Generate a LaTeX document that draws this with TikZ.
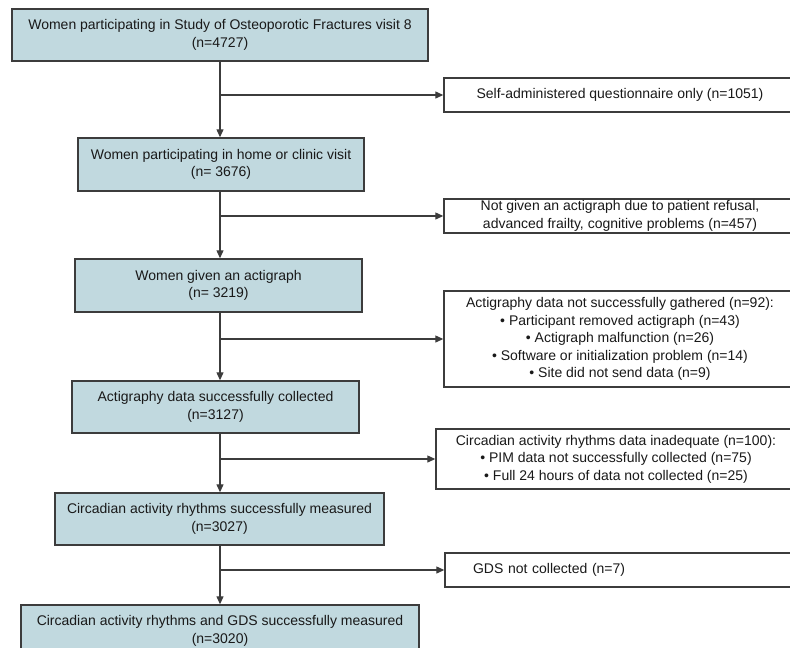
\documentclass[tikz,border=0pt]{standalone}
\usepackage{fontspec}
\setmainfont{Liberation Sans}
\usetikzlibrary{arrows.meta}
\definecolor{boxfill}{RGB}{193,217,223}
\definecolor{boxline}{RGB}{60,60,60}
\definecolor{txt}{RGB}{25,25,25}
\tikzset{
  mainbox/.style={draw=boxline, line width=1.4pt, fill=boxfill, inner sep=0pt, align=center, text=txt,
     font=\fontsize{14}{17.5}\selectfont},
  sidebox/.style={draw=boxline, line width=1.4pt, fill=white, inner sep=0pt, align=center, text=txt,
     font=\fontsize{14}{17.5}\selectfont},
  arr/.style={draw=boxline, line width=1.2pt, -{Triangle[length=8pt,width=7pt]}},
}
\begin{document}
\begin{tikzpicture}[x=1pt,y=-1pt]
\useasboundingbox (0,0) rectangle (790,648);
\clip (0,0) rectangle (790,648);
% main boxes
\node[mainbox, minimum width=416pt, minimum height=52pt] (b1) at (220,35)
  {Women participating  in Study of Osteoporotic  Fractures visit 8\\(n=4727)};
\node[mainbox, minimum width=286pt, minimum height=53pt] (b2) at (221,164.5)
  {Women participating  in home or clinic visit\\(n= 3676)};
\node[mainbox, minimum width=287pt, minimum height=53pt] (b3) at (218.5,285.5)
  {Women given  an actigraph\\(n= 3219)};
\node[mainbox, minimum width=287pt, minimum height=52pt] (b4) at (215.5,407)
  {Actigraphy data  successfully collected\\(n=3127)};
\node[mainbox, minimum width=329pt, minimum height=52pt] (b5) at (219.5,519)
  {Circadian  activity rhythms successfully measured\\(n=3027)};
\node[mainbox, minimum width=398pt, minimum height=52pt] (b6) at (220,631)
  {Circadian  activity rhythms and GDS successfully measured\\(n=3020)};
% side boxes
\node[sidebox, minimum width=352pt, minimum height=34pt] (r1) at (620,95)
  {Self-administered  questionnaire  only (n=1051)};
\node[sidebox, minimum width=352pt, minimum height=34pt] (r2) at (620,216)
  {Not given  an actigraph due to patient refusal,\\advanced  frailty, cognitive  problems (n=457)};
\node[sidebox, minimum width=352pt, minimum height=96pt] (r3) at (620,339)
  {Actigraphy data not successfully gathered  (n=92):\\
   • Participant removed  actigraph (n=43)\\
   • Actigraph malfunction  (n=26)\\
   • Software  or initialization problem  (n=14)\\
   • Site did not send data (n=9)};
\node[sidebox, minimum width=360pt, minimum height=60pt] (r4) at (616,459)
  {Circadian  activity rhythms data inadequate  (n=100):\\
   • PIM data not successfully collected (n=75)\\
   • Full 24 hours of data not collected (n=25)};
\node[sidebox, minimum width=352pt, minimum height=34pt, align=left, text width=296pt, inner xsep=28pt] (r5) at (621,570)
  {GDS not collected (n=7)};
% connectors
\draw[arr] (b1.south) -- (b1.south |- b2.north);
\draw[arr] (b1.south |- b2.south) -- (b1.south |- b3.north);
\draw[arr] (b1.south |- b3.south) -- (b1.south |- b4.north);
\draw[arr] (b1.south |- b4.south) -- (b1.south |- b5.north);
\draw[arr] (b1.south |- b5.south) -- (b1.south |- b6.north);
\draw[arr] (b1.south |- r1.west) -- (r1.west);
\draw[arr] (b1.south |- r2.west) -- (r2.west);
\draw[arr] (b1.south |- r3.west) -- (r3.west);
\draw[arr] (b1.south |- r4.west) -- (r4.west);
\draw[arr] (b1.south |- r5.west) -- (r5.west);
\end{tikzpicture}
\end{document}
